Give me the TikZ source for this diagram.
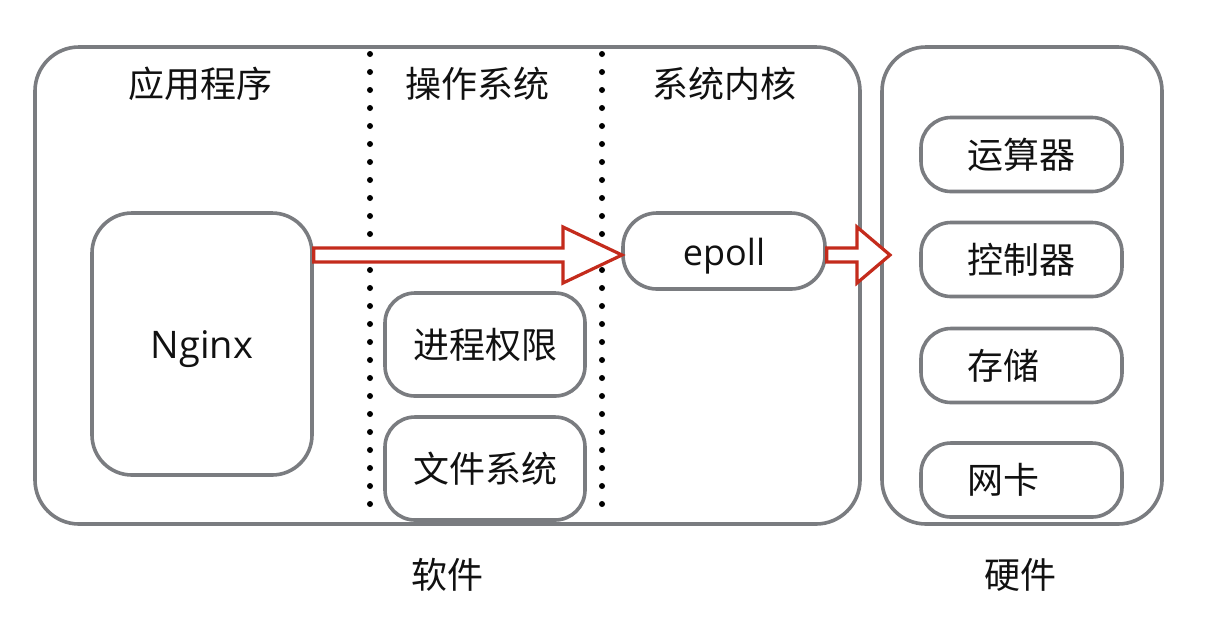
\documentclass[tikz,border=0pt]{standalone}
\usepackage{fontspec}
\setmainfont{Open Sans}
\newfontfamily\cjk{Noto Sans CJK SC}
\usetikzlibrary{calc}
\definecolor{boxgray}{HTML}{7A7C80}
\definecolor{arrred}{HTML}{C42B1C}
\definecolor{txt}{HTML}{111111}
\newcommand\lowered[1]{\raisebox{-2.5pt}[\height][\depth]{#1}}
\tikzset{
  outerbox/.style={draw=boxgray, line width=1.8pt, rounded corners=22pt, minimum width=#1},
  innerbox/.style={draw=boxgray, line width=1.8pt, rounded corners=15pt, font=\cjk\fontsize{18}{20}\selectfont, text=txt, inner sep=0pt},
  hwbox/.style={innerbox, text width=54.5pt, inner xsep=23pt, align=left, minimum height=37pt},
  title/.style={font=\cjk\fontsize{18}{20}\selectfont, text=txt, inner sep=0pt},
  dotline/.style={line width=3pt, line cap=round, dash pattern=on 0pt off 9pt},
  hollow/.style={draw=arrred, fill=white, line width=1.6pt, line join=miter},
}
% #1 start, #2 tip, #3 head length
\newcommand\hollowarrow[3]{%
  \draw[hollow] let \p1=(#1), \p2=(#2) in
    (\x1,\y1+3.5pt) -- (\x2-#3,\y1+3.5pt) -- (\x2-#3,\y1+14pt) -- (\x2,\y1)
    -- (\x2-#3,\y1-14pt) -- (\x2-#3,\y1-3.5pt) -- (\x1,\y1-3.5pt) -- cycle;}
\begin{document}
\begin{tikzpicture}[x=0.5pt,y=-0.5pt]
\useasboundingbox[fill=white] (0,0) rectangle (1213,623);
% outer boxes
\node[outerbox=412.5pt, minimum height=238.5pt] (sw) at (447.5,285.5) {};
\node[outerbox=140pt, minimum height=238.5pt] (hw) at (1022,285.5) {};
% dotted separators
\coordinate (d1t) at (370,54); \coordinate (d1b) at (370,507);
\coordinate (d2t) at (602,54); \coordinate (d2b) at (602,507);
\draw[dotline] (d1t) -- (d1b);
\draw[dotline] (d2t) -- (d2b);
% headers
\node[title] (h1) at (200,84) {应用程序};
\node[title] (h2) at (477,84) {操作系统};
\node[title] (h3) at (724,84) {系统内核};
\node[title] (l1) at (447,575) {软件};
\node[title] (l2) at (1020,575) {硬件};
% software boxes
\node[innerbox, rounded corners=20pt, minimum width=110pt, minimum height=131pt, font=\fontsize{19}{21}\selectfont] (nginx) at (202,344) {\lowered{Nginx}};
\node[innerbox, minimum width=100pt, minimum height=51.5pt] (perm) at (485,344.5) {进程权限};
\node[innerbox, minimum width=100pt, minimum height=51.5pt] (fs) at (485,468.5) {文件系统};
\node[innerbox, minimum width=101pt, minimum height=38pt, rounded corners=17pt, font=\fontsize{18}{20}\selectfont] (epoll) at (724,251) {\lowered{epoll}};
% hardware boxes
\node[hwbox] (alu) at (1021.5,154.5) {运算器};
\node[hwbox] (ctl) at (1021.5,259.5) {控制器};
\node[hwbox] (mem) at (1021.5,365.5) {存储};
\node[hwbox] (nic) at (1021.5,480) {网卡};
% arrows
\coordinate (t1) at (622,255);
\coordinate (s1) at (nginx.east |- t1);
\hollowarrow{s1}{t1}{29.5pt}
\coordinate (t2) at (890,255);
\coordinate (s2) at (epoll.east |- t2);
\hollowarrow{s2}{t2}{16.5pt}
\end{tikzpicture}
\end{document}
